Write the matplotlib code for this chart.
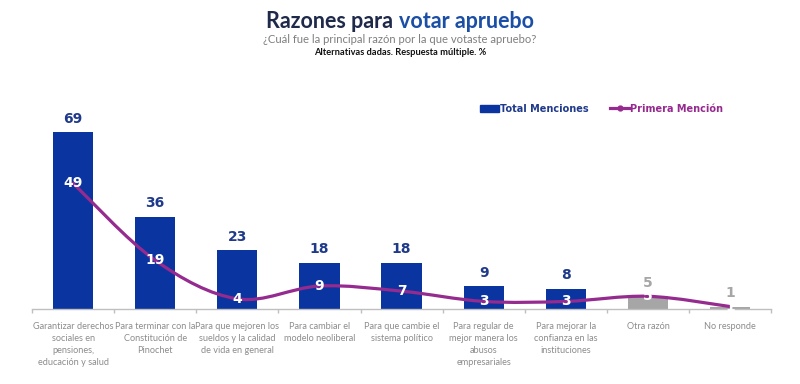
import numpy as np
import matplotlib
matplotlib.use("Agg")
import matplotlib.pyplot as plt
from matplotlib.path import Path
from matplotlib.patches import PathPatch, Patch
from matplotlib.lines import Line2D

categories = [
    "Garantizar derechos\nsociales en\npensiones,\neducación y salud",
    "Para terminar con la\nConstitución de\nPinochet",
    "Para que mejoren los\nsueldos y la calidad\nde vida en general",
    "Para cambiar el\nmodelo neoliberal",
    "Para que cambie el\nsistema político",
    "Para regular de\nmejor manera los\nabusos\nempresariales",
    "Para mejorar la\nconfianza en las\ninstituciones",
    "Otra razón",
    "No responde",
]
total_menciones = [69, 36, 23, 18, 18, 9, 8, 5, 1]
primera_mencion = [49, 19, 4, 9, 7, 3, 3, 5, 1]

BLUE = "#0a35a0"
GRAY = "#a6a6a6"
PURPLE = "#952a8f"
LABEL_BLUE = "#1f3a8a"

fig = plt.figure(figsize=(8, 3.84), dpi=100)
ax = fig.add_axes([0.04, 0.195, 0.924, 0.545])

x = np.arange(len(categories))
colors = [BLUE] * 7 + [GRAY] * 2
ax.bar(x, total_menciones, width=0.49, color=colors, zorder=2)

for xi, v, c in zip(x, total_menciones, colors):
    ax.text(xi, v + 2.5, str(v), ha="center", va="bottom",
            fontsize=10, fontweight="bold",
            color=LABEL_BLUE if c == BLUE else GRAY, family="DejaVu Sans")

# smooth line (Catmull-Rom -> cubic Bezier)
pts = np.column_stack([x, primera_mencion]).astype(float)
verts = [tuple(pts[0])]
codes = [Path.MOVETO]
n = len(pts)
for i in range(n - 1):
    p0 = pts[i - 1] if i > 0 else pts[i]
    p1 = pts[i]
    p2 = pts[i + 1]
    p3 = pts[i + 2] if i + 2 < n else pts[i + 1]
    c1 = p1 + (p2 - p0) / 6.0
    c2 = p2 - (p3 - p1) / 6.0
    verts += [tuple(c1), tuple(c2), tuple(p2)]
    codes += [Path.CURVE4] * 3
ax.add_patch(PathPatch(Path(verts, codes), fill=False, edgecolor=PURPLE,
                       lw=2.3, zorder=3, capstyle="round"))

for xi, v in zip(x, primera_mencion):
    ax.text(xi, v, str(v), ha="center", va="center", fontsize=10,
            fontweight="bold", color="white", family="DejaVu Sans", zorder=4)

ax.set_xlim(-0.5, len(categories) - 0.5)
ax.set_ylim(0, 81.5)
ax.set_yticks([])
for s in ["top", "right", "left"]:
    ax.spines[s].set_visible(False)
ax.spines["bottom"].set_color("#bfbfbf")
ax.spines["bottom"].set_linewidth(1)
ax.set_xticks(x)
ax.set_xticklabels(categories, fontsize=6.6, color="#8c8c8c", family="Lato",
                   linespacing=1.45, va="top")
ax.tick_params(axis="x", which="major", length=0, pad=9)
ax.set_xticks(np.arange(-0.5, len(categories)), minor=True)
ax.tick_params(axis="x", which="minor", length=3, color="#bfbfbf", width=1)

handles = [Patch(color=BLUE), Line2D([0], [0], color=PURPLE, lw=2.3,
                                      marker="o", markersize=3.5)]
leg = fig.legend(handles, ["Total Menciones", "Primera Mención"], ncol=2,
                 loc="center left", bbox_to_anchor=(0.589, 0.717),
                 frameon=False, handlelength=2.0, handletextpad=0.05,
                 columnspacing=2.2,
                 prop={"family": "DejaVu Sans", "weight": "bold", "size": 7.0})
leg.get_texts()[0].set_color(LABEL_BLUE)
leg.get_texts()[1].set_color(PURPLE)

# title
t1 = fig.text(0.5, 0.945, "Razones para ", ha="left", va="center",
              fontsize=15.5, fontweight="bold", color="#1f2a4a", family="Lato")
t2 = fig.text(0.5, 0.945, "votar apruebo", ha="left", va="center",
              fontsize=15.5, fontweight="bold", color="#1b4fa6", family="Lato")
fig.canvas.draw()
bb = t1.get_window_extent()
bb2 = t2.get_window_extent()
total_w = bb.width + bb2.width
left = 0.5 - total_w / 2 / fig.bbox.width
t1.set_x(left)
t2.set_x(left + bb.width / fig.bbox.width)

fig.text(0.5, 0.897, "¿Cuál fue la principal razón por la que votaste apruebo?",
         ha="center", va="center", fontsize=8.1, color="#7f7f7f", family="Lato")
fig.text(0.5, 0.862, "Alternativas dadas. Respuesta múltiple. %",
         ha="center", va="center", fontsize=6.7, fontweight="bold",
         color="#111111", family="Lato")

fig.savefig("out.png", dpi=100)
